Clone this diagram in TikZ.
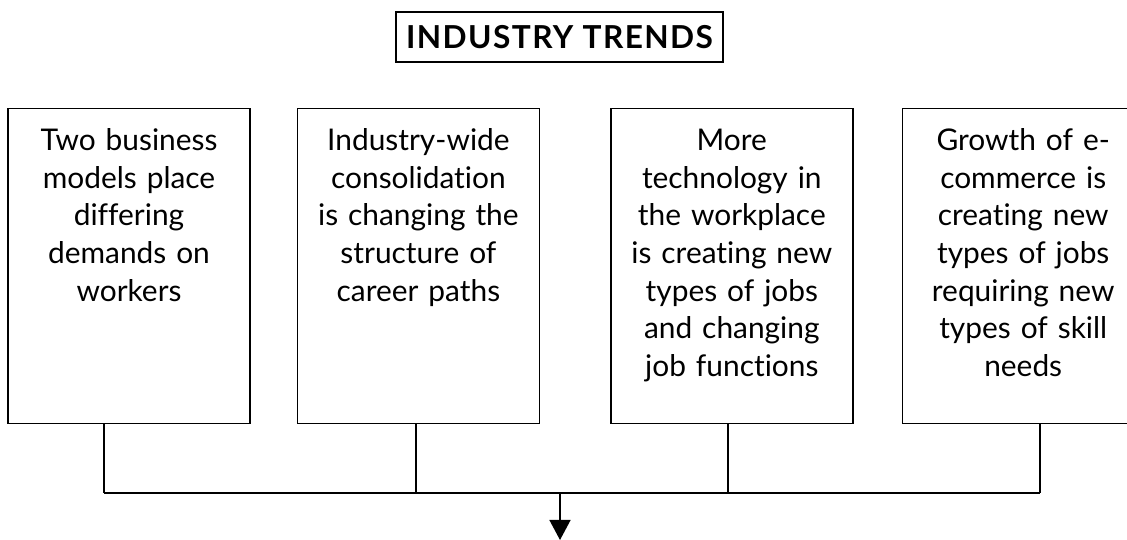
\documentclass[tikz,border=0pt]{standalone}
\usepackage{fontspec}
\setmainfont[Ligatures={NoCommon,NoContextual}]{Lato}
\usepackage{tikz}
\usetikzlibrary{arrows.meta,positioning}

\tikzset{
  trendbox/.style={draw, line width=0.8pt, anchor=north, inner sep=0pt,
    text width=4.84cm, align=center, text height=0.84cm, text depth=5.46cm,
    font=\fontsize{17}{21.4}\selectfont},
  titlebox/.style={draw, line width=1pt, minimum width=6.54cm, minimum height=1cm,
    font=\fontsize{18}{20}\selectfont\bfseries\addfontfeatures{LetterSpace=4.5}},
  wire/.style={line width=0.8pt}
}

\begin{document}
\begin{tikzpicture}
  \useasboundingbox (0,0) rectangle (22.54,10.8);
  \clip (0,0) rectangle (22.54,10.8);

  \node[titlebox] (title) at (11.19,10.06) {INDUSTRY TRENDS};

  \node[trendbox] (b1) at (2.58,8.64)
    {Two business\\ models place\\ differing\\ demands on\\ workers};
  \node[trendbox, right=0.92cm of b1] (b2)
    {Industry-wide\\ consolidation\\ is changing the\\ structure of\\ career paths};
  \node[trendbox, right=1.4cm of b2] (b3)
    {More\\ technology in\\ the workplace\\ is creating new\\ types of jobs\\ and changing\\ job functions};
  \node[trendbox, right=0.96cm of b3] (b4)
    {Growth of e-\\ commerce is\\ creating new\\ types of jobs\\ requiring new\\ types of skill\\ needs};

  % bus under the boxes
  \coordinate (j1) at (2.08,0.94);
  \coordinate (j2) at (8.32,0.94);
  \coordinate (j3) at (14.56,0.94);
  \coordinate (j4) at (20.8,0.94);
  \coordinate (mid) at (11.2,0.94);
  \coordinate (down) at (11.2,0);

  \draw[wire] (b1.south -| j1) -- (j1);
  \draw[wire] (b2.south -| j2) -- (j2);
  \draw[wire] (b3.south -| j3) -- (j3);
  \draw[wire] (b4.south -| j4) -- (j4);
  \draw[wire] (j1) -- (j4);
  \draw[wire, -{Triangle[length=0.4cm,width=0.42cm]}] (mid) -- (down);
\end{tikzpicture}
\end{document}
